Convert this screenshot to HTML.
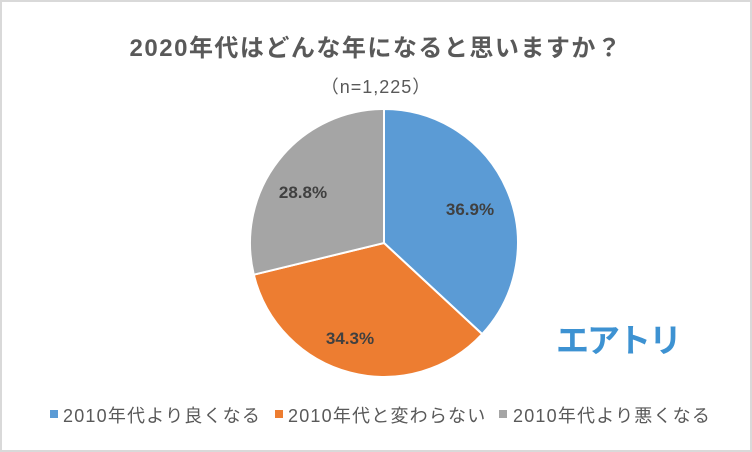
<!DOCTYPE html>
<html><head><meta charset="utf-8"><style>
body{margin:0;width:752px;height:452px;background:#fff;overflow:hidden}
.frame{position:absolute;left:0;top:0;width:748px;height:448px;border:2px solid #d9d9d9;background:#fff}
.t{position:absolute;font-family:"Liberation Sans","Noto Sans CJK JP",sans-serif;color:#595959;white-space:nowrap}
</style></head><body>
<div class="frame"></div>
<div class="t" style="left:0;width:752px;text-align:center;top:28px;font-size:24px;font-weight:bold;letter-spacing:1.5px">2020年代はどんな年になると思いますか？</div>
<div class="t" style="left:0;width:752px;text-align:center;top:73px;font-size:18px;letter-spacing:1px">（n=1,225）</div>
<svg width="752" height="452" style="position:absolute;left:0;top:0">
<path d="M384,243 L384,109 A134,134 0 0 1 482.2,334.1 Z" fill="#5b9bd5" stroke="#fff" stroke-width="2"/>
<path d="M384,243 L482.2,334.1 A134,134 0 0 1 253.8,274.7 Z" fill="#ed7d31" stroke="#fff" stroke-width="2"/>
<path d="M384,243 L253.8,274.7 A134,134 0 0 1 384,109 Z" fill="#a5a5a5" stroke="#fff" stroke-width="2"/>
<g font-family="Liberation Sans, sans-serif" font-size="17" font-weight="bold" fill="#404040" text-anchor="middle">
<text x="470" y="215">36.9%</text>
<text x="350" y="344">34.3%</text>
<text x="303" y="198">28.8%</text>
</g>
<rect x="50" y="410" width="8" height="8" fill="#5b9bd5"/>
<rect x="275" y="410" width="8" height="8" fill="#ed7d31"/>
<rect x="499" y="410" width="8" height="8" fill="#a5a5a5"/>
</svg>
<div class="t" style="left:556px;top:314px;font-size:33px;font-weight:bold;color:#3d92d2;letter-spacing:-2px">エアトリ</div>
<div class="t" style="left:63px;top:402px;font-size:18px;letter-spacing:1.2px">2010年代より良くなる</div>
<div class="t" style="left:288px;top:402px;font-size:18px;letter-spacing:1.2px">2010年代と変わらない</div>
<div class="t" style="left:513px;top:402px;font-size:18px;letter-spacing:1.2px">2010年代より悪くなる</div>
</body></html>
